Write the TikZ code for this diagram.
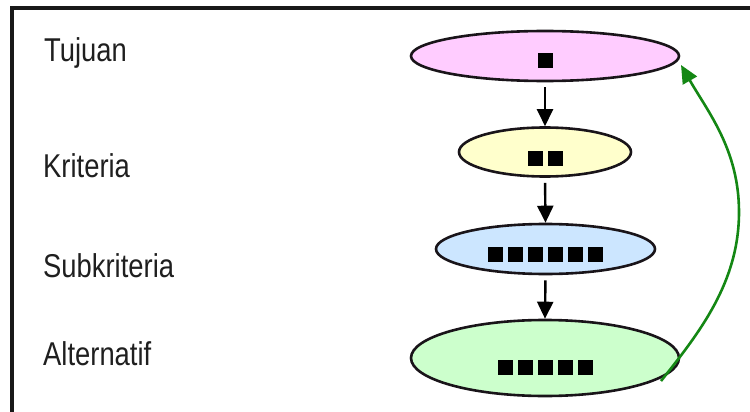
\documentclass[tikz,border=0pt]{standalone}
\usepackage{fontspec}
\setmainfont{Liberation Sans}
\usetikzlibrary{shapes.geometric,arrows.meta}

\definecolor{goalfill}{RGB}{255,204,255}
\definecolor{critfill}{RGB}{255,255,204}
\definecolor{subfill}{RGB}{204,230,255}
\definecolor{altfill}{RGB}{204,255,204}
\definecolor{edgeink}{RGB}{25,20,25}
\definecolor{loopgreen}{RGB}{20,135,20}

% one filled square and a row of them
\newcommand{\blk}{\rule{15pt}{15pt}}
\newcommand{\blkgap}{\hspace{5pt}}
\newcommand{\lvltext}[1]{\scalebox{0.83}[1]{#1}}

\begin{document}
\begin{tikzpicture}[x=1pt,y=-1pt,
  level/.style={ellipse,draw=edgeink,line width=2.6pt,inner sep=0pt},
  marks/.style={inner sep=0pt,outer sep=0pt},
  lvllabel/.style={anchor=base west,inner sep=0pt,text=black!88,
    font=\fontsize{33}{33}\selectfont},
  down/.style={-{Triangle[length=17pt,width=16pt]},line width=2.4pt,
    draw=black,shorten <=5pt},
  back/.style={-{Triangle[length=18pt,width=16pt]},line width=2.6pt,
    draw=loopgreen,color=loopgreen}]

\useasboundingbox (0,0) rectangle (750,412);

% frame (open at right and bottom)
\draw[line width=3.5pt,draw=black!90] (12,412) -- (12,8) -- (750,8);

% level names
\node[lvllabel] (ltuj) at (44,62)  {\lvltext{Tujuan}};
\node[lvllabel] (lkri) at (43,177) {\lvltext{Kriteria}};
\node[lvllabel] (lsub) at (43,277) {\lvltext{Subkriteria}};
\node[lvllabel] (lalt) at (43,365) {\lvltext{Alternatif}};

% hierarchy levels
\node[level,fill=goalfill,minimum width=268pt,minimum height=50pt] (tuj) at (545,56) {};
\node[level,fill=critfill,minimum width=172pt,minimum height=49pt] (kri) at (545,152) {};
\node[level,fill=subfill,minimum width=219pt,minimum height=50pt] (sub) at (545.5,249) {};
\node[level,fill=altfill,minimum width=268pt,minimum height=76pt] (alt) at (545,358) {};

% elements in each level
\node[marks] (mtuj) at (545,61)    {\blk};
\node[marks] (mkri) at (545,158)   {\blk\blkgap\blk};
\node[marks] (msub) at (545,254.5) {\blk\blkgap\blk\blkgap\blk\blkgap\blk\blkgap\blk\blkgap\blk};
\node[marks] (malt) at (545.5,367) {\blk\blkgap\blk\blkgap\blk\blkgap\blk\blkgap\blk};

% top-down links
\draw[down] (tuj.south) -- (kri.north);
\draw[down] (kri.south) -- (sub.north);
\draw[down] (sub.south) -- (alt.north);

% feedback from alternatives to goal
\coordinate (fbstart) at (661,381);
\coordinate (fbmid) at (739,212);
\coordinate (fbend) at (681,65);
\draw[back] (fbstart) .. controls (700,332) and (739,282) .. (fbmid)
  .. controls (739,150) and (708,112) .. (fbend);

\end{tikzpicture}
\end{document}
